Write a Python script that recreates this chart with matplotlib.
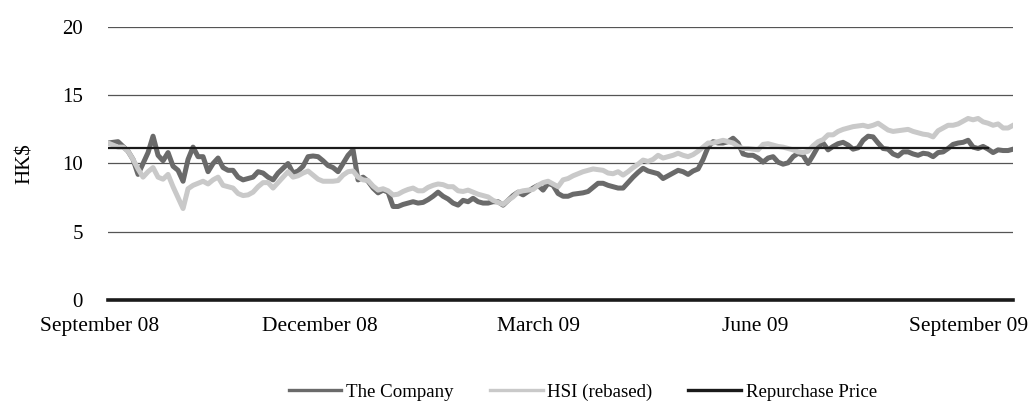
import numpy as np
import matplotlib
matplotlib.use("Agg")
import matplotlib.pyplot as plt
from matplotlib.lines import Line2D

# share price of the company (HK$), sampled evenly Sep 2008 - Sep 2009
company = [
    11.5, 11.55, 11.6, 11.25, 10.9, 10.3, 9.2, 10.0, 10.8, 12.0,
    10.6, 10.2, 10.8, 9.8, 9.5, 8.7, 10.3, 11.2, 10.5, 10.5,
    9.4, 10.0, 10.4, 9.7, 9.5, 9.5, 9.0, 8.8, 8.9, 9.0,
    9.4, 9.3, 9.0, 8.8, 9.3, 9.65, 10.0, 9.3, 9.45, 9.8,
    10.5, 10.55, 10.5, 10.2, 9.85, 9.7, 9.4, 10.0, 10.6, 11.0,
    8.8, 9.0, 8.7, 8.2, 7.85, 8.05, 7.9, 6.85, 6.85, 7.0,
    7.1, 7.2, 7.1, 7.15, 7.35, 7.6, 7.9, 7.6, 7.4, 7.1,
    6.95, 7.3, 7.2, 7.45, 7.2, 7.1, 7.1, 7.2, 7.2, 6.95,
    7.3, 7.65, 7.9, 7.7, 7.95, 8.2, 8.4, 8.05, 8.55, 8.4,
    7.8, 7.6, 7.6, 7.75, 7.8, 7.85, 7.95, 8.25, 8.55, 8.55,
    8.4, 8.3, 8.2, 8.2, 8.6, 9.0, 9.35, 9.65, 9.45, 9.35,
    9.25, 8.9, 9.1, 9.3, 9.5, 9.4, 9.2, 9.45, 9.6, 10.3,
    11.2, 11.6, 11.5, 11.5, 11.6, 11.85, 11.5, 10.7, 10.6, 10.6,
    10.4, 10.1, 10.4, 10.5, 10.1, 9.95, 10.05, 10.5, 10.75, 10.6,
    10.0, 10.6, 11.25, 11.5, 11.0, 11.25, 11.45, 11.55, 11.35, 11.05,
    11.15, 11.7, 12.0, 11.95, 11.5, 11.1, 11.05, 10.7, 10.55, 10.85,
    10.85, 10.7, 10.6, 10.75, 10.7, 10.5, 10.8, 10.85, 11.1, 11.4,
    11.5, 11.55, 11.7, 11.2, 11.1, 11.25, 11.05, 10.8, 11.0, 10.95,
    10.95, 11.05,
]

# Hang Seng Index, rebased to the company's starting price
hsi = [
    11.5, 11.35, 11.2, 11.2, 10.9, 10.3, 9.6, 9.0, 9.4, 9.7,
    9.0, 8.85, 9.2, 8.3, 7.5, 6.7, 8.15, 8.4, 8.55, 8.7,
    8.5, 8.8, 9.0, 8.4, 8.3, 8.2, 7.8, 7.65, 7.7, 7.9,
    8.3, 8.6, 8.6, 8.2, 8.6, 9.0, 9.4, 9.0, 9.1, 9.3,
    9.45, 9.15, 8.85, 8.7, 8.7, 8.7, 8.75, 9.15, 9.4, 9.45,
    9.0, 8.8, 8.75, 8.35, 8.05, 8.15, 8.0, 7.7, 7.75, 7.95,
    8.1, 8.2, 8.0, 8.0, 8.25, 8.4, 8.5, 8.45, 8.3, 8.3,
    8.0, 7.95, 8.05, 7.9, 7.75, 7.65, 7.55, 7.3, 7.15, 7.0,
    7.3, 7.55, 7.9, 8.0, 8.05, 8.1, 8.4, 8.6, 8.7, 8.5,
    8.3, 8.8, 8.9, 9.1, 9.25, 9.4, 9.5, 9.6, 9.55, 9.5,
    9.3, 9.25, 9.4, 9.15, 9.4, 9.7, 9.95, 10.25, 10.15, 10.3,
    10.6, 10.4, 10.5, 10.6, 10.75, 10.6, 10.5, 10.65, 10.9, 11.2,
    11.5, 11.5, 11.6, 11.7, 11.6, 11.5, 11.25, 11.1, 11.1, 11.05,
    11.0, 11.4, 11.45, 11.35, 11.25, 11.2, 11.1, 11.0, 10.85, 10.8,
    10.9, 11.3, 11.6, 11.75, 12.1, 12.1, 12.35, 12.5, 12.6, 12.7,
    12.75, 12.8, 12.7, 12.8, 12.95, 12.7, 12.45, 12.35, 12.4, 12.45,
    12.5, 12.35, 12.25, 12.15, 12.1, 11.95, 12.4, 12.6, 12.8, 12.8,
    12.9, 13.1, 13.3, 13.2, 13.3, 13.05, 12.95, 12.8, 12.9, 12.6,
    12.6, 12.8,
]

repurchase_price = 11.15
repurchase_samples = 177  # offer period covered by the repurchase line

month_labels = ["September 08", "December 08", "March 09", "June 09", "September 09"]
month_pos = [-1.6, 42.4, 86.0, 129.4, 172.0]

yticks = [0, 5, 10, 15, 20]

plt.rcParams['font.family'] = ['Liberation Serif', 'DejaVu Serif']

fig = plt.figure(figsize=(10.28, 4.03), dpi=100)
ax = fig.add_axes([0.1051, 0.2556, 0.8804, 0.6774])

x = np.arange(len(company))
xr = np.arange(repurchase_samples)

for y in yticks[1:]:
    ax.axhline(y, color='#555555', lw=0.9, zorder=1)
ax.axhline(0, color='#1a1a1a', lw=2.6, zorder=5, clip_on=False)

ax.plot(x, company, color='#6a6a6a', lw=3.6, zorder=2, solid_joinstyle='round')
ax.plot(x, hsi, color='#c9c9c9', lw=3.6, zorder=3, solid_joinstyle='round')
ax.plot(xr, [repurchase_price] * repurchase_samples, color='#1a1a1a', lw=1.6, zorder=4)

ax.set_xlim(0, len(company) - 1)
ax.set_ylim(0, 20)
ax.set_yticks(yticks)
ax.tick_params(axis='y', length=0, pad=18, labelsize=15)
ax.set_xticks([])
for s in ax.spines.values():
    s.set_visible(False)

for lab, p in zip(month_labels, month_pos):
    ax.text(p, -1.95, lab, ha='center', va='center', fontsize=15.5, clip_on=False)

ax.set_ylabel('HK$', fontsize=15, labelpad=20)

handles = [
    Line2D([], [], color='#6a6a6a', lw=2.4),
    Line2D([], [], color='#c9c9c9', lw=2.4),
    Line2D([], [], color='#1a1a1a', lw=2.4),
]
fig.legend(handles, ['The Company', 'HSI (rebased)', 'Repurchase Price'],
           loc='center', bbox_to_anchor=(0.567, 0.027), ncol=3, frameon=False,
           fontsize=13.6, handlelength=2.8, handletextpad=0.25, columnspacing=1.9)

fig.savefig('out.png', dpi=100)
